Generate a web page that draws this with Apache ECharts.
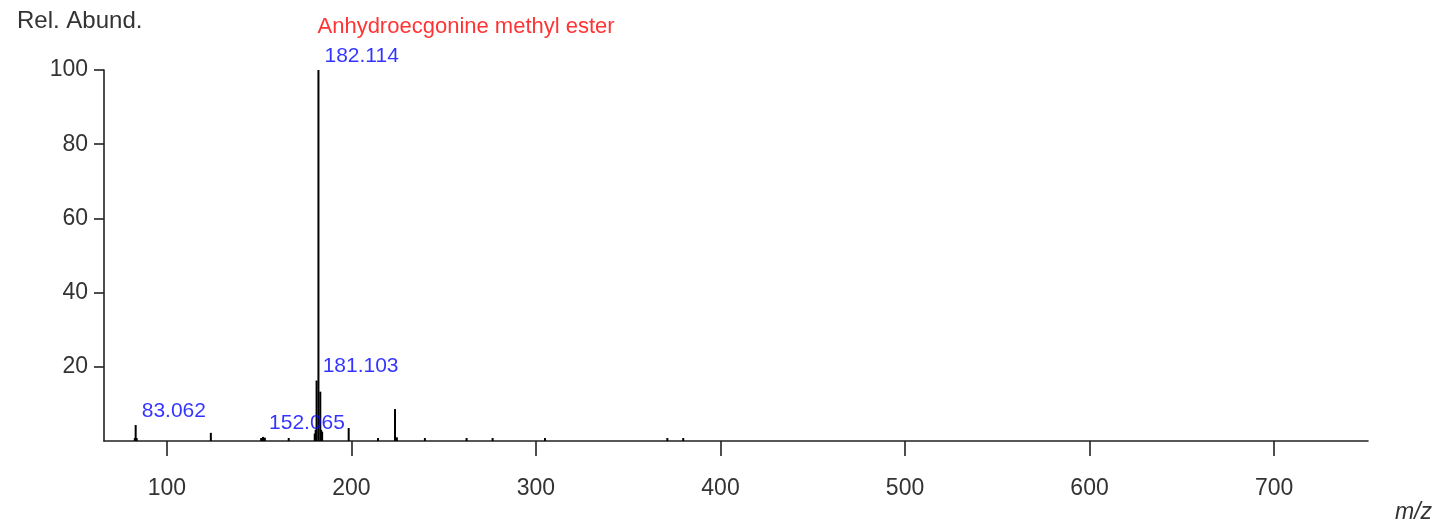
<!DOCTYPE html>
<html>
<head>
<meta charset="utf-8">
<script src="https://cdn.jsdelivr.net/npm/echarts@6/dist/echarts.min.js"></script>
<style>
html,body{margin:0;padding:0;background:#fff;}
#chart{width:1448px;height:527px;}
</style>
</head>
<body>
<div id="chart"></div>
<script>
// ---- data ----
const peakMz    = [82.6, 83.062, 83.6, 123.8, 151.06, 152.065, 153.07, 166.0, 180.1, 180.6, 181.103, 182.114, 183.117, 183.6, 184.12, 198.5, 214.4, 223.6, 224.6, 239.8, 262.4, 276.5, 304.9, 371.2, 379.8];
const peakAbund = [0.8,  4.3,    0.8,  2.2,   0.8,    1.1,     0.9,    0.8,   2.0,   3.0,   16.3,    100,     13.3,    3.0,   2.5,    3.5,   0.8,   8.6,   1.0,   0.8,   0.8,   0.8,   0.8,   0.8,   0.8];
const labelMz    = [83.062, 152.065, 181.103, 182.114];
const labelAbund = [4.3, 1.1, 16.3, 100];
const labelText  = ['83.062', '152.065', '181.103', '182.114'];
const compoundName = 'Anhydroecgonine methyl ester';
const compoundMz = 182.114;
const compoundAbund = 100;
const xTicks = [100, 200, 300, 400, 500, 600, 700];
const yTicks = [20, 40, 60, 80, 100];
const yTitle = 'Rel. Abund.';
const xTitle = 'm/z';

const FONT = '"Liberation Sans", Arial, sans-serif';
const chart = echarts.init(document.getElementById('chart'), null, {renderer: 'canvas'});
chart.setOption({
  animation: false,
  backgroundColor: '#fff',
  grid: {left: 104, right: 80, top: 70, bottom: 86, containLabel: false},
  xAxis: {
    type: 'value', min: 65.9, max: 750.9,
    splitLine: {show: false},
    axisLine: {show: true, onZero: false, lineStyle: {color: '#222', width: 1.6}},
    axisTick: {show: true, customValues: xTicks, length: 15, lineStyle: {color: '#222', width: 1.6}},
    axisLabel: {customValues: xTicks, margin: 36, color: '#333', fontSize: 23, fontFamily: FONT}
  },
  yAxis: {
    type: 'value', min: 0, max: 100,
    splitLine: {show: false},
    axisLine: {show: true, lineStyle: {color: '#222', width: 1.6}},
    axisTick: {show: true, customValues: yTicks, length: 10, lineStyle: {color: '#222', width: 1.6}},
    axisLabel: {customValues: yTicks, margin: 16, color: '#333', fontSize: 23, fontFamily: FONT}
  },
  graphic: [
    {type: 'text', left: 17, top: 9, style: {text: yTitle, fontSize: 24, fontFamily: FONT, fill: '#333'}},
    {type: 'text', left: 1395, top: 501, style: {text: xTitle, fontSize: 23, fontStyle: 'italic', fontFamily: FONT, fill: '#333'}}
  ],
  series: [
    {
      type: 'bar', barWidth: 2, silent: true,
      itemStyle: {color: '#000'},
      data: peakMz.map((m, i) => [m, peakAbund[i]])
    },
    {
      type: 'scatter', symbolSize: 0.1, silent: true,
      itemStyle: {color: 'rgba(0,0,0,0)'},
      data: labelMz.map((m, i) => ({value: [m, labelAbund[i]], name: labelText[i]})),
      label: {show: true, position: 'right', distance: 0, offset: [6, -14],
        formatter: p => p.name, color: '#0000ff', fontSize: 21, fontFamily: FONT}
    },
    {
      type: 'scatter', symbolSize: 0.1, silent: true,
      itemStyle: {color: 'rgba(0,0,0,0)'},
      data: [{value: [compoundMz, compoundAbund], name: compoundName}],
      label: {show: true, position: 'right', distance: 0, offset: [-1, -43],
        formatter: p => p.name, color: '#ff0000', fontSize: 22, fontFamily: FONT}
    }
  ]
});
</script>
</body>
</html>
